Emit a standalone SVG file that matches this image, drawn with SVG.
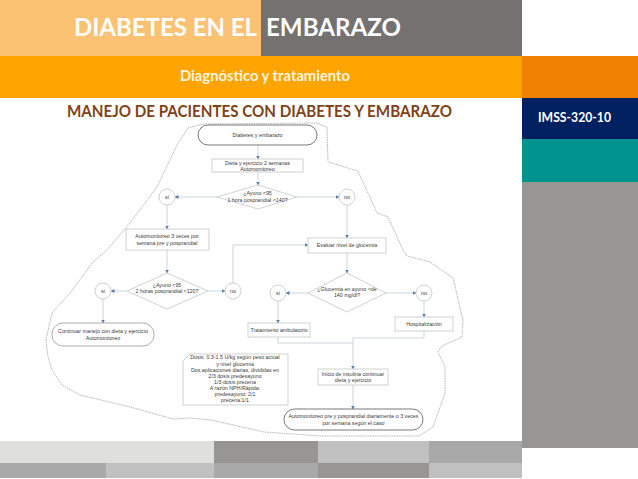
<svg xmlns="http://www.w3.org/2000/svg" width="638" height="479" viewBox="0 0 638 479">
<style>
.t{font-family:"Liberation Sans",Arial,sans-serif;font-size:5.3px;fill:#3a3a3a;text-anchor:middle}
.h{font-family:Lato,"Open Sans",sans-serif;font-weight:700}
.box{fill:#fff;stroke:#c2c6c8;stroke-width:.8}
.dark{fill:#fff;stroke:#555;stroke-width:.8}
.c{fill:none;stroke:#bdcad6;stroke-width:.8;marker-end:url(#a)}
.l{fill:none;stroke:#bdcad6;stroke-width:.8}
</style>
<defs>
<marker id="a" markerUnits="userSpaceOnUse" markerWidth="4" markerHeight="4" refX="3.5" refY="2" orient="auto"><path d="M0 0L4 2L0 4Z" fill="#5b80aa"/></marker>
</defs>
<rect width="638" height="479" fill="#fff"/>
<g id="banner">
<rect x="0" y="0" width="261" height="56" fill="#fac272"/>
<rect x="261" y="0" width="261" height="56" fill="#767171"/>
<rect x="0" y="56" width="522" height="42" fill="#ffa400"/>
<rect x="522" y="56" width="116" height="42" fill="#f08000"/>
<rect x="522" y="98" width="116" height="41" fill="#002060"/>
<rect x="522" y="139" width="116" height="43" fill="#009490"/>
<rect x="522" y="182" width="116" height="266" fill="#989694"/>
<rect x="0" y="441" width="214" height="22" fill="#dfe0de"/>
<rect x="214" y="441" width="104" height="22" fill="#989694"/>
<rect x="318" y="441" width="111" height="22" fill="#c0c0c0"/>
<rect x="429" y="441" width="93" height="22" fill="#a8a8a8"/>
<rect x="0" y="463" width="106" height="15" fill="#a8a8a8"/>
<rect x="106" y="463" width="108" height="15" fill="#c0c0c0"/>
<rect x="214" y="463" width="104" height="15" fill="#a8a8a8"/>
<rect x="318" y="463" width="111" height="15" fill="#989694"/>
<rect x="429" y="463" width="93" height="15" fill="#c0c0c0"/>
<text class="h" x="74" y="36" font-size="24" fill="#fff" textLength="183" lengthAdjust="spacingAndGlyphs">DIABETES EN EL</text>
<text class="h" x="266" y="36" font-size="24" fill="#fff" textLength="135" lengthAdjust="spacingAndGlyphs">EMBARAZO</text>
<text class="h" x="180" y="81" font-size="15" fill="#fff4de" textLength="170" lengthAdjust="spacingAndGlyphs">Diagnóstico y tratamiento</text>
<text class="h" x="67" y="117" font-size="17" fill="#7f4318" textLength="385" lengthAdjust="spacingAndGlyphs">MANEJO DE PACIENTES CON DIABETES Y EMBARAZO</text>
<text class="h" x="538" y="122" font-size="14" fill="#fff" textLength="73" lengthAdjust="spacingAndGlyphs">IMSS-320-10</text>
</g>
<path id="outline" d="M203 124L188 128L177 145L157 187L130 223L107 250L93 262L70 293L52 313L46 340L48 357L52 370L62 385L80 395L97 399L130 407L173 419L190 418L211 420L264 432L321 436L419 436L433 427L445 393L445 367L438 352L442 346L462 337L463 320L453 278L430 262L407 256L403 250L388 217L377 213L358 171L328 162L327 127L317 123Z" fill="none" stroke="#9a9a9a" stroke-width=".7" stroke-dasharray="1.6 .8"/>
<g id="connectors">
<path class="c" d="M258 145V159"/>
<path class="c" d="M258 172V185"/>
<path class="c" d="M217 197H175"/>
<path class="c" d="M297 197H339"/>
<path class="c" d="M167 205V229"/>
<path class="c" d="M347 205V238"/>
<path class="c" d="M167 250V273"/>
<path class="c" d="M127 291H111"/>
<path class="c" d="M208 291H225"/>
<path class="c" d="M233 283V245H308"/>
<path class="c" d="M103 299V323"/>
<path class="c" d="M347 253V273"/>
<path class="c" d="M308 293H286"/>
<path class="c" d="M386 293H416"/>
<path class="c" d="M278 301V323"/>
<path class="c" d="M424 301V317"/>
<path class="l" d="M278 337V343H353"/>
<path class="l" d="M424 331V338H353"/>
<path class="c" d="M353 338V369"/>
<path class="c" d="M353 385V409"/>
</g>
<g id="n1"><rect class="dark" x="198" y="125" width="119" height="20" rx="10"/><text class="t" x="257.500" y="137">Diabetes y embarazo</text></g>
<g id="n2"><rect class="box" x="212" y="159" width="91" height="13"/><text class="t" x="257.500" y="164.500">Dieta y ejercicio 2 semanas</text><text class="t" x="257.500" y="170.500">Automonitoreo</text></g>
<g id="n3"><polygon class="box" points="258,185 297,197 258,209 217,197"/><text class="t" x="257.500" y="195">¿Ayuno &lt;95</text><text class="t" x="257.500" y="202">1 hora posprandial &lt;140?</text></g>
<g id="n4"><circle class="box" cx="167" cy="197" r="8"/><text class="t" x="167" y="199">si</text></g>
<g id="n5"><circle class="box" cx="347" cy="197" r="8"/><text class="t" x="347" y="199">no</text></g>
<g id="n6"><rect class="box" x="126" y="229" width="83" height="21"/><text class="t" x="167" y="238">Automonitoreo 3 veces por</text><text class="t" x="167" y="244.500">semana pre y posprandial</text></g>
<g id="n7"><rect class="box" x="308" y="238" width="78" height="15"/><text class="t" x="347" y="247">Evaluar nivel de glucemia</text></g>
<g id="n8"><polygon class="box" points="167,273 208,291 167,309 127,291"/><text class="t" x="167" y="287">¿Ayuno &lt;95</text><text class="t" x="167" y="293">2 horas posprandial &lt;120?</text></g>
<g id="n9"><circle class="box" cx="103" cy="291" r="8"/><text class="t" x="103" y="293">si</text></g>
<g id="n10"><circle class="box" cx="233" cy="291" r="8"/><text class="t" x="233" y="293">no</text></g>
<g id="n11"><polygon class="box" points="347,273 386,293 347,312 308,293"/><text class="t" x="347" y="291">¿Glucemia en ayuno &lt;de</text><text class="t" x="347" y="297">140 mg/dl?</text></g>
<g id="n12"><circle class="box" cx="278" cy="293" r="8"/><text class="t" x="278" y="295">si</text></g>
<g id="n13"><circle class="box" cx="424" cy="293" r="8"/><text class="t" x="424" y="295">no</text></g>
<g id="n14"><rect class="dark" x="52" y="323" width="102" height="23" rx="11" style="stroke:#999"/><text class="t" x="103" y="333">Continuar manejo con dieta y ejercicio</text><text class="t" x="103" y="339.500">Automonitoreo</text></g>
<g id="n15"><rect class="box" x="248" y="323" width="62" height="14"/><text class="t" x="279" y="331.500">Tratamiento ambulatorio</text></g>
<g id="n16"><rect class="box" x="395" y="317" width="58" height="14"/><text class="t" x="424" y="326">Hospitalización</text></g>
<g id="n17"><polygon class="box" points="190,354 288,354 288,405 183,405 183,361"/>
<text class="t" x="235" y="359">Dosis: 0.3-1.5 U/kg según peso actual</text>
<text class="t" x="235" y="365.500">y  nivel glucemia</text>
<text class="t" x="235" y="371.500">Dos aplicaciones diarias, divididas en</text>
<text class="t" x="235" y="377.500">2/3 dosis predesayuno</text>
<text class="t" x="235" y="383.500">1/3 dosis precena</text>
<text class="t" x="235" y="389.500">A razón NPH/Rápida:</text>
<text class="t" x="235" y="395.500">predesayuno: 2/1</text>
<text class="t" x="235" y="401.500">precena:1/1</text></g>
<g id="n18"><rect class="box" x="318" y="369" width="70" height="16"/><text class="t" x="353" y="375.500">Inicio de insulina continuar</text><text class="t" x="353" y="381.500">dieta y ejercicio</text></g>
<g id="n19"><rect class="dark" x="284" y="409" width="139" height="21" rx="10.500"/><text class="t" x="353.500" y="418">Automonitoreo pre y posprandial diariamente o 3 veces</text><text class="t" x="353.500" y="424.500">por semana según el caso</text></g>
</svg>
